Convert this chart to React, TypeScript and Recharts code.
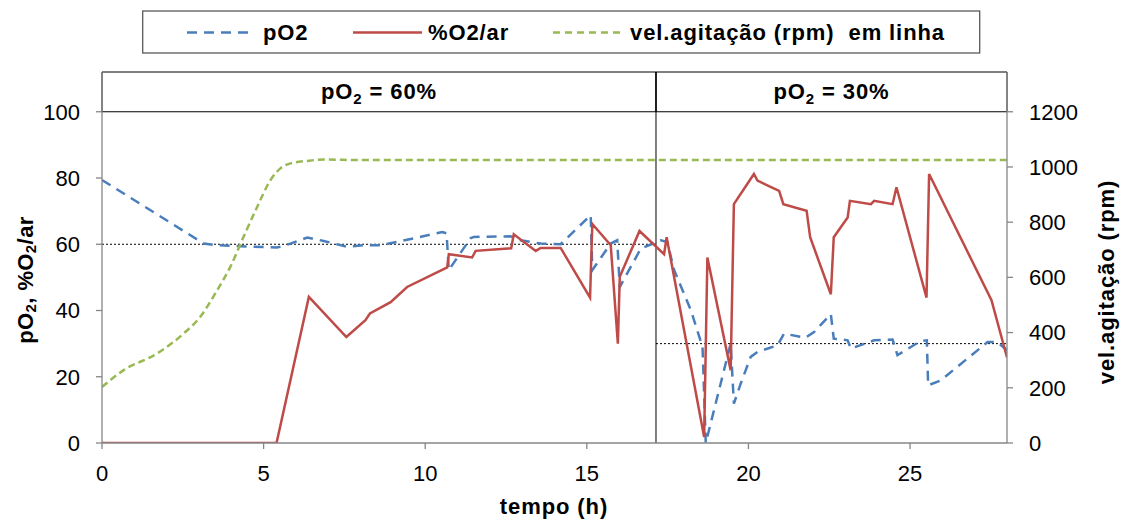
import React from 'react';
import { ComposedChart, Line, XAxis, YAxis, ReferenceArea, ReferenceLine } from 'recharts';

const FONT = '"Liberation Sans", Arial, sans-serif';

// tempo (h) and pO2 (%)
const pO2Time = [0, 3.15, 3.56, 4.28, 5.42, 5.83, 6.35, 6.86, 7.59, 8.1, 8.62, 9.65, 10.53, 10.66, 10.73, 11.4, 11.5, 12.64, 12.95, 13.57, 14.19, 15.12, 15.17, 15.74, 15.94, 16.02, 16.67, 17.29, 17.49, 17.7, 18.22, 18.58, 18.68, 19.14, 19.45, 19.55, 19.76, 20.07, 20.28, 20.9, 21.1, 21.77, 22.03, 22.55, 22.64, 23.07, 23.17, 23.89, 24.46, 24.61, 25.33, 25.52, 25.56, 25.95, 27.4, 27.7, 28.0];
const pO2Values = [79.4, 60.2, 59.7, 59.4, 59.0, 60.2, 62.0, 61.0, 59.2, 59.7, 59.7, 61.8, 63.7, 63.3, 52.2, 61.8, 62.2, 62.4, 61.2, 60.2, 60.0, 68.8, 52.2, 60.2, 61.2, 47.1, 58.7, 61.2, 60.7, 52.2, 40.1, 29.0, 0, 17.9, 30.0, 11.9, 17.9, 26.0, 27.5, 29.5, 33.0, 31.8, 33.5, 38.9, 31.5, 31.0, 28.5, 31.0, 31.2, 26.5, 30.8, 31.0, 17.4, 18.9, 30.5, 30.5, 28.0];

// tempo (h) and %O2/ar
const o2Time = [0, 5.4, 6.4, 7.56, 8.15, 8.29, 8.93, 9.44, 10.68, 10.73, 11.45, 11.56, 12.66, 12.74, 13.42, 13.57, 14.19, 15.1, 15.17, 15.74, 15.96, 16.02, 16.63, 17.39, 17.47, 18.63, 18.73, 19.45, 19.55, 20.17, 20.28, 20.95, 21.08, 21.8, 21.91, 22.55, 22.64, 23.07, 23.14, 23.79, 23.89, 24.46, 24.58, 25.51, 25.59, 27.52, 28.0];
const o2Values = [0, 0, 44.1, 32.0, 37.1, 39.1, 42.5, 47.1, 53.0, 57.0, 56.0, 58.0, 58.8, 63.0, 58.0, 58.9, 58.9, 43.9, 66.1, 59.7, 30.0, 50.2, 64.0, 57.0, 62.1, 1.8, 56.0, 22.0, 72.1, 81.2, 79.2, 76.1, 72.1, 70.1, 62.1, 44.9, 62.1, 68.1, 73.1, 72.1, 73.1, 72.1, 77.2, 43.9, 81.2, 43.1, 25.8];

// tempo (h) and agitation speed (rpm)
const rpmTime = [0, 0.67, 1.7, 2.53, 3.04, 3.56, 3.97, 4.38, 4.8, 5.21, 5.52, 5.83, 6.35, 6.86, 8, 28];
const rpmValues = [203, 264, 324, 397, 457, 553, 638, 747, 855, 952, 995, 1013, 1022, 1027, 1025, 1025];

const xTicks = [0, 5, 10, 15, 20, 25];
const leftTicks = [0, 20, 40, 60, 80, 100];
const rightTicks = [0, 200, 400, 600, 800, 1000, 1200];
const phaseChange = 17.14;
const phaseLabels = ['60%', '30%'];
const setpoints = [60, 30];
const legendLabels = ['pO2', '%O2/ar', 'vel.agitação (rpm)  em linha'];

const pO2Data = pO2Time.map((t, i) => ({ t, v: pO2Values[i] }));
const o2Data = o2Time.map((t, i) => ({ t, v: o2Values[i] }));
const rpmData = rpmTime.map((t, i) => ({ t, v: rpmValues[i] }));

const BLUE = '#4A7EBB';
const RED = '#BE4B48';
const GREEN = '#98B954';
const AXIS = '#868686';

const Header = (props: any) => {
  const vb = props.viewBox || {};
  return (
    <text x={vb.x + vb.width / 2} y={vb.y + vb.height / 2 + 7} textAnchor="middle" fontFamily={FONT} fontWeight="bold" fontSize={22} letterSpacing={0.9} fill="#000">
      pO<tspan fontSize={15} dy={5}>2</tspan><tspan dy={-5}> = {props.pct}</tspan>
    </text>
  );
};

const XTitle = () => (
  <text x={546} y={506} textAnchor="middle" fontFamily={FONT} fontWeight="bold" fontSize={22} letterSpacing={0.9} fill="#000">tempo (h)</text>
);

const LeftTitle = () => (
  <text x={0} y={0} transform="translate(17,272) rotate(-90)" textAnchor="middle" dominantBaseline="central" fontFamily={FONT} fontWeight="bold" fontSize={22} letterSpacing={0.4} fill="#000">
    pO<tspan fontSize={15} dy={5}>2</tspan><tspan dy={-5}>, %O</tspan><tspan fontSize={15} dy={5}>2</tspan><tspan dy={-5}>/ar</tspan>
  </text>
);

const RightTitle = () => (
  <text x={0} y={0} transform="translate(1098,274) rotate(-90)" textAnchor="middle" dominantBaseline="central" fontFamily={FONT} fontWeight="bold" fontSize={22} letterSpacing={0.9} fill="#000">vel.agitação (rpm)</text>
);

const LegendBox = () => (
  <svg width={1107} height={60} style={{ position: 'absolute', left: 0, top: 0, pointerEvents: 'none' }}>
    <rect x={134.7} y={3} width={837} height={42} fill="#fff" stroke="#595959" strokeWidth={1.3} />
    <line x1={179} x2={245} y1={24.5} y2={24.5} stroke={BLUE} strokeWidth={2.5} strokeDasharray="10 7" />
    <text x={255} y={31.5} fontFamily={FONT} fontWeight="bold" fontSize={22} letterSpacing={0.9} fill="#000">{legendLabels[0]}</text>
    <line x1={345} x2={414} y1={24.5} y2={24.5} stroke={RED} strokeWidth={2.5} />
    <text x={420} y={31.5} fontFamily={FONT} fontWeight="bold" fontSize={22} letterSpacing={0.9} fill="#000">{legendLabels[1]}</text>
    <line x1={545} x2={615} y1={24.5} y2={24.5} stroke={GREEN} strokeWidth={2.5} strokeDasharray="7 5" />
    <text x={622} y={31.5} fontFamily={FONT} fontWeight="bold" fontSize={22} letterSpacing={0.9} fill="#000" style={{ whiteSpace: 'pre' }}>{legendLabels[2]}</text>
  </svg>
);

export default function App() {
  return (
    <div style={{ position: 'fixed', left: 8, top: 8, width: 1115, height: 512, background: '#fff' }}>
      <ComposedChart width={1115} height={512} margin={{ top: 64, right: 0, left: 0, bottom: 4 }}>
        <XAxis
          type="number"
          dataKey="t"
          domain={[0, 28]}
          ticks={xTicks}
          allowDataOverflow
          height={73}
          tickSize={6}
          tickMargin={16}
          tick={{ fill: '#000', fontSize: 22, fontFamily: FONT }}
          axisLine={{ stroke: AXIS, strokeWidth: 1.3 }}
          tickLine={{ stroke: AXIS, strokeWidth: 1.3 }}
          label={<XTitle />}
        />
        <YAxis
          yAxisId="left"
          type="number"
          domain={[0, 112]}
          ticks={leftTicks}
          allowDataOverflow
          width={94}
          tickSize={6}
          tickMargin={16}
          tick={{ fill: '#000', fontSize: 22, fontFamily: FONT }}
          axisLine={{ stroke: AXIS, strokeWidth: 1.3 }}
          tickLine={{ stroke: AXIS, strokeWidth: 1.3 }}
          label={<LeftTitle />}
        />
        <YAxis
          yAxisId="right"
          orientation="right"
          type="number"
          domain={[0, 1344]}
          ticks={rightTicks}
          allowDataOverflow
          width={116}
          tickSize={6}
          tickMargin={16}
          tick={{ fill: '#000', fontSize: 22, fontFamily: FONT }}
          axisLine={{ stroke: AXIS, strokeWidth: 1.3 }}
          tickLine={{ stroke: AXIS, strokeWidth: 1.3 }}
          label={<RightTitle />}
        />
        <ReferenceArea yAxisId="left" x1={0} x2={phaseChange} y1={100} y2={112} fill="#fff" fillOpacity={0} stroke="#000" strokeWidth={1} label={<Header pct={phaseLabels[0]} />} />
        <ReferenceArea yAxisId="left" x1={phaseChange} x2={28} y1={100} y2={112} fill="#fff" fillOpacity={0} stroke="#000" strokeWidth={1} label={<Header pct={phaseLabels[1]} />} />
        <ReferenceLine yAxisId="left" x={phaseChange} stroke="#000" strokeWidth={1} />
        <ReferenceLine yAxisId="left" segment={[{ x: 0, y: setpoints[0] }, { x: phaseChange, y: setpoints[0] }]} stroke="#000" strokeWidth={1} strokeDasharray="2 2" />
        <ReferenceLine yAxisId="left" segment={[{ x: phaseChange, y: setpoints[1] }, { x: 28, y: setpoints[1] }]} stroke="#000" strokeWidth={1} strokeDasharray="2 2" />
        <Line yAxisId="left" data={pO2Data} dataKey="v" type="linear" stroke={BLUE} strokeWidth={2.5} strokeDasharray="10 7" dot={false} activeDot={false} isAnimationActive={false} />
        <Line yAxisId="left" data={o2Data} dataKey="v" type="linear" stroke={RED} strokeWidth={2.5} dot={false} activeDot={false} isAnimationActive={false} />
        <Line yAxisId="right" data={rpmData} dataKey="v" type="monotone" stroke={GREEN} strokeWidth={2.5} strokeDasharray="7 4" dot={false} activeDot={false} isAnimationActive={false} />
      </ComposedChart>
      <LegendBox />
    </div>
  );
}
